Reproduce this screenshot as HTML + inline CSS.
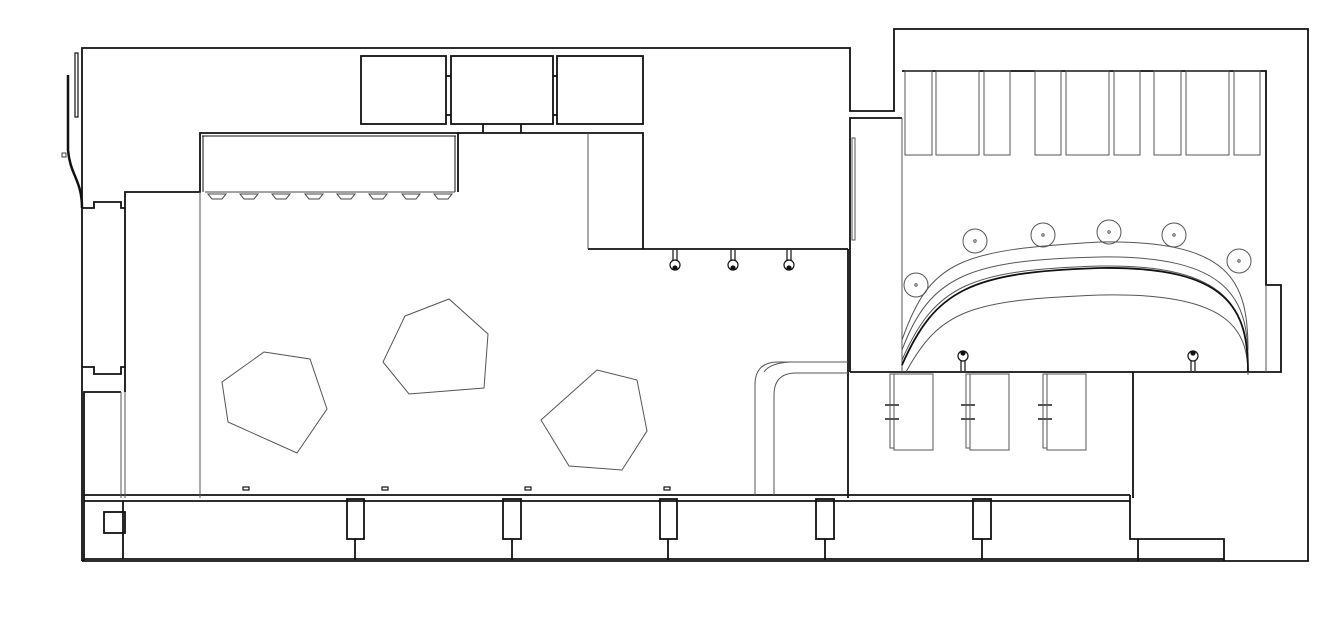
<!DOCTYPE html>
<html><head><meta charset="utf-8"><style>html,body{margin:0;padding:0;background:#fff}svg{display:block}</style></head>
<body>
<svg width="1344" height="620" viewBox="0 0 1344 620" xmlns="http://www.w3.org/2000/svg" fill="none" stroke="#111">
<g stroke-width="1.8">
<polyline points="82,561 82,48 850,48 850,111 894,111 894,29 1308,29 1308,561 1224,561"/>
<polyline points="82,208 94,208 94,202 121,202 121,208 125,208 125,192 200,192 200,133 458,133 458,192"/>
<line x1="125" y1="208" x2="125" y2="367"/>
<line x1="202" y1="136" x2="456" y2="136" stroke-width="1"/>
<line x1="203" y1="136" x2="203" y2="192" stroke-width="1"/>
<line x1="455" y1="136" x2="455" y2="192" stroke-width="1"/>
<polyline points="458,133 643,133 643,249"/>
<polyline points="588,249 848,249"/>
<line x1="848" y1="249" x2="848" y2="498"/>
<polyline points="82,367 94,367 94,374 121,374 121,367 125,367 125,392"/>
<polyline points="84,561 84,392 121,392"/>
<line x1="84" y1="495" x2="1130" y2="495"/>
<line x1="84" y1="501" x2="1130" y2="501"/>
<line x1="84" y1="559" x2="1224" y2="559"/>
<line x1="82" y1="561" x2="1224" y2="561"/>
<polyline points="1130,495 1130,539 1224,539 1224,561"/>
<line x1="123" y1="501" x2="123" y2="559"/>
<rect x="104" y="512" width="21" height="21"/>
<line x1="1138" y1="539" x2="1138" y2="561"/>
<g>
<rect x="347" y="499" width="17" height="40"/><line x1="355" y1="539" x2="355" y2="560"/>
<rect x="503" y="499" width="18" height="40"/><line x1="512" y1="539" x2="512" y2="560"/>
<rect x="660" y="499" width="17" height="40"/><line x1="668" y1="539" x2="668" y2="560"/>
<rect x="816" y="499" width="18" height="40"/><line x1="825" y1="539" x2="825" y2="560"/>
<rect x="973" y="499" width="18" height="40"/><line x1="982" y1="539" x2="982" y2="560"/>
</g>
<polyline points="850,372 850,118 902,118"/>
<polyline points="902,71 1266,71 1266,285 1281,285 1281,372 850,372"/>
<line x1="1133" y1="372" x2="1133" y2="498"/>
<rect x="361" y="56" width="85" height="68"/>
<rect x="451" y="56" width="102" height="68"/>
<rect x="557" y="56" width="86" height="68"/>
<line x1="446" y1="76" x2="451" y2="76"/><line x1="446" y1="115" x2="451" y2="115"/>
<line x1="553" y1="76" x2="557" y2="76"/><line x1="553" y1="115" x2="557" y2="115"/>
<line x1="483" y1="124" x2="483" y2="133"/><line x1="521" y1="124" x2="521" y2="133"/>
<path d="M68,75 L68,150 C70,175 82,180 82,208" stroke-width="2.5"/>
<rect x="75" y="53" width="3" height="64" stroke-width="1.2"/>
<rect x="62" y="153" width="4" height="4" stroke-width="0.8"/>
</g>
<g stroke-width="1" stroke="#555">
<line x1="200" y1="192" x2="200" y2="498"/>
<line x1="121" y1="392" x2="121" y2="498"/>
<line x1="125" y1="392" x2="125" y2="498"/>
<line x1="588" y1="133" x2="588" y2="249"/>
<line x1="902" y1="118" x2="902" y2="372"/>
<rect x="852" y="138" width="3" height="102"/>
<line x1="1266" y1="285" x2="1266" y2="372"/>
<polygon points="264,352 310,359 327,409 297,453 228,422 222,382"/>
<polygon points="405,316 449,299 488,334 484,388 409,394 383,362"/>
<polygon points="597,370 637,380 647,431 622,470 569,466 541,420"/>
<path d="M755,495 L755,385 Q755,362 778,362 L848,362"/>
<path d="M774,495 L774,395 Q774,373 796,373 L848,373"/>
<path d="M764,372 Q770,363 790,362"/>
<rect x="905" y="71" width="27" height="84"/><rect x="936" y="71" width="43" height="84"/><rect x="984" y="71" width="26" height="84"/>
<rect x="1035" y="71" width="26" height="84"/><rect x="1066" y="71" width="43" height="84"/><rect x="1114" y="71" width="26" height="84"/>
<rect x="1154" y="71" width="27" height="84"/><rect x="1186" y="71" width="43" height="84"/><rect x="1234" y="71" width="26" height="84"/>
<path d="M902,340 C930,260 960,250 1100,242 C1230,240 1248,280 1248,350"/>
<path d="M902,350 C930,275 970,260 1100,257 C1230,255 1248,300 1248,360"/>
<path d="M902,360 C935,285 970,270 1100,266 C1230,264 1248,310 1248,372"/>
<path d="M906,372 C940,310 970,300 1100,295 C1230,292 1248,330 1248,375"/>
<path d="M902,365 C935,290 970,272 1100,268 C1230,266 1248,310 1248,372" stroke="#111" stroke-width="1.8"/>
<circle cx="916" cy="285" r="12"/><circle cx="975" cy="241" r="12"/><circle cx="1043" cy="235" r="12"/>
<circle cx="1109" cy="232" r="12"/><circle cx="1174" cy="235" r="12"/><circle cx="1239" cy="261" r="12"/>
<g><circle cx="916" cy="285" r="1.2"/><circle cx="975" cy="241" r="1.2"/><circle cx="1043" cy="235" r="1.2"/><circle cx="1109" cy="232" r="1.2"/><circle cx="1174" cy="235" r="1.2"/><circle cx="1239" cy="261" r="1.2"/></g>
<rect x="894" y="374" width="39" height="76"/><rect x="890" y="374" width="4" height="74"/>
<rect x="970" y="374" width="39" height="76"/><rect x="966" y="374" width="4" height="74"/>
<rect x="1047" y="374" width="39" height="76"/><rect x="1043" y="374" width="4" height="74"/>
<g stroke-width="2"><line x1="885" y1="405" x2="899" y2="405"/><line x1="885" y1="419" x2="899" y2="419"/>
<line x1="961" y1="405" x2="975" y2="405"/><line x1="961" y1="419" x2="975" y2="419"/>
<line x1="1038" y1="405" x2="1052" y2="405"/><line x1="1038" y1="419" x2="1052" y2="419"/></g>
</g>
<g stroke="#444" stroke-width="1">
<line x1="205" y1="192" x2="455" y2="192"/>
<path d="M208,194 L226,194 L222,199 L212,199 Z"/><path d="M240,194 L258,194 L254,199 L244,199 Z"/>
<path d="M272,194 L290,194 L286,199 L276,199 Z"/><path d="M305,194 L323,194 L319,199 L309,199 Z"/>
<path d="M337,194 L355,194 L351,199 L341,199 Z"/><path d="M369,194 L387,194 L383,199 L373,199 Z"/>
<path d="M402,194 L420,194 L416,199 L406,199 Z"/><path d="M434,194 L452,194 L448,199 L438,199 Z"/>
</g>
<g stroke="#111" stroke-width="1.2">
<g><line x1="673" y1="250" x2="673" y2="260"/><line x1="677" y1="250" x2="677" y2="260"/><circle cx="675" cy="265" r="5"/><circle cx="675" cy="268" r="2" fill="#111"/></g>
<g><line x1="731" y1="250" x2="731" y2="260"/><line x1="735" y1="250" x2="735" y2="260"/><circle cx="733" cy="265" r="5"/><circle cx="733" cy="268" r="2" fill="#111"/></g>
<g><line x1="787" y1="250" x2="787" y2="260"/><line x1="791" y1="250" x2="791" y2="260"/><circle cx="789" cy="265" r="5"/><circle cx="789" cy="268" r="2" fill="#111"/></g>
<g><circle cx="963" cy="356" r="5"/><circle cx="963" cy="353" r="2" fill="#111"/><line x1="961" y1="361" x2="961" y2="371"/><line x1="965" y1="361" x2="965" y2="371"/></g>
<g><circle cx="1193" cy="356" r="5"/><circle cx="1193" cy="353" r="2" fill="#111"/><line x1="1191" y1="361" x2="1191" y2="371"/><line x1="1195" y1="361" x2="1195" y2="371"/></g>
<rect x="243" y="487" width="6" height="3"/><rect x="382" y="487" width="6" height="3"/>
<rect x="525" y="487" width="6" height="3"/><rect x="664" y="487" width="6" height="3"/>
</g>
</svg>
</body></html>
